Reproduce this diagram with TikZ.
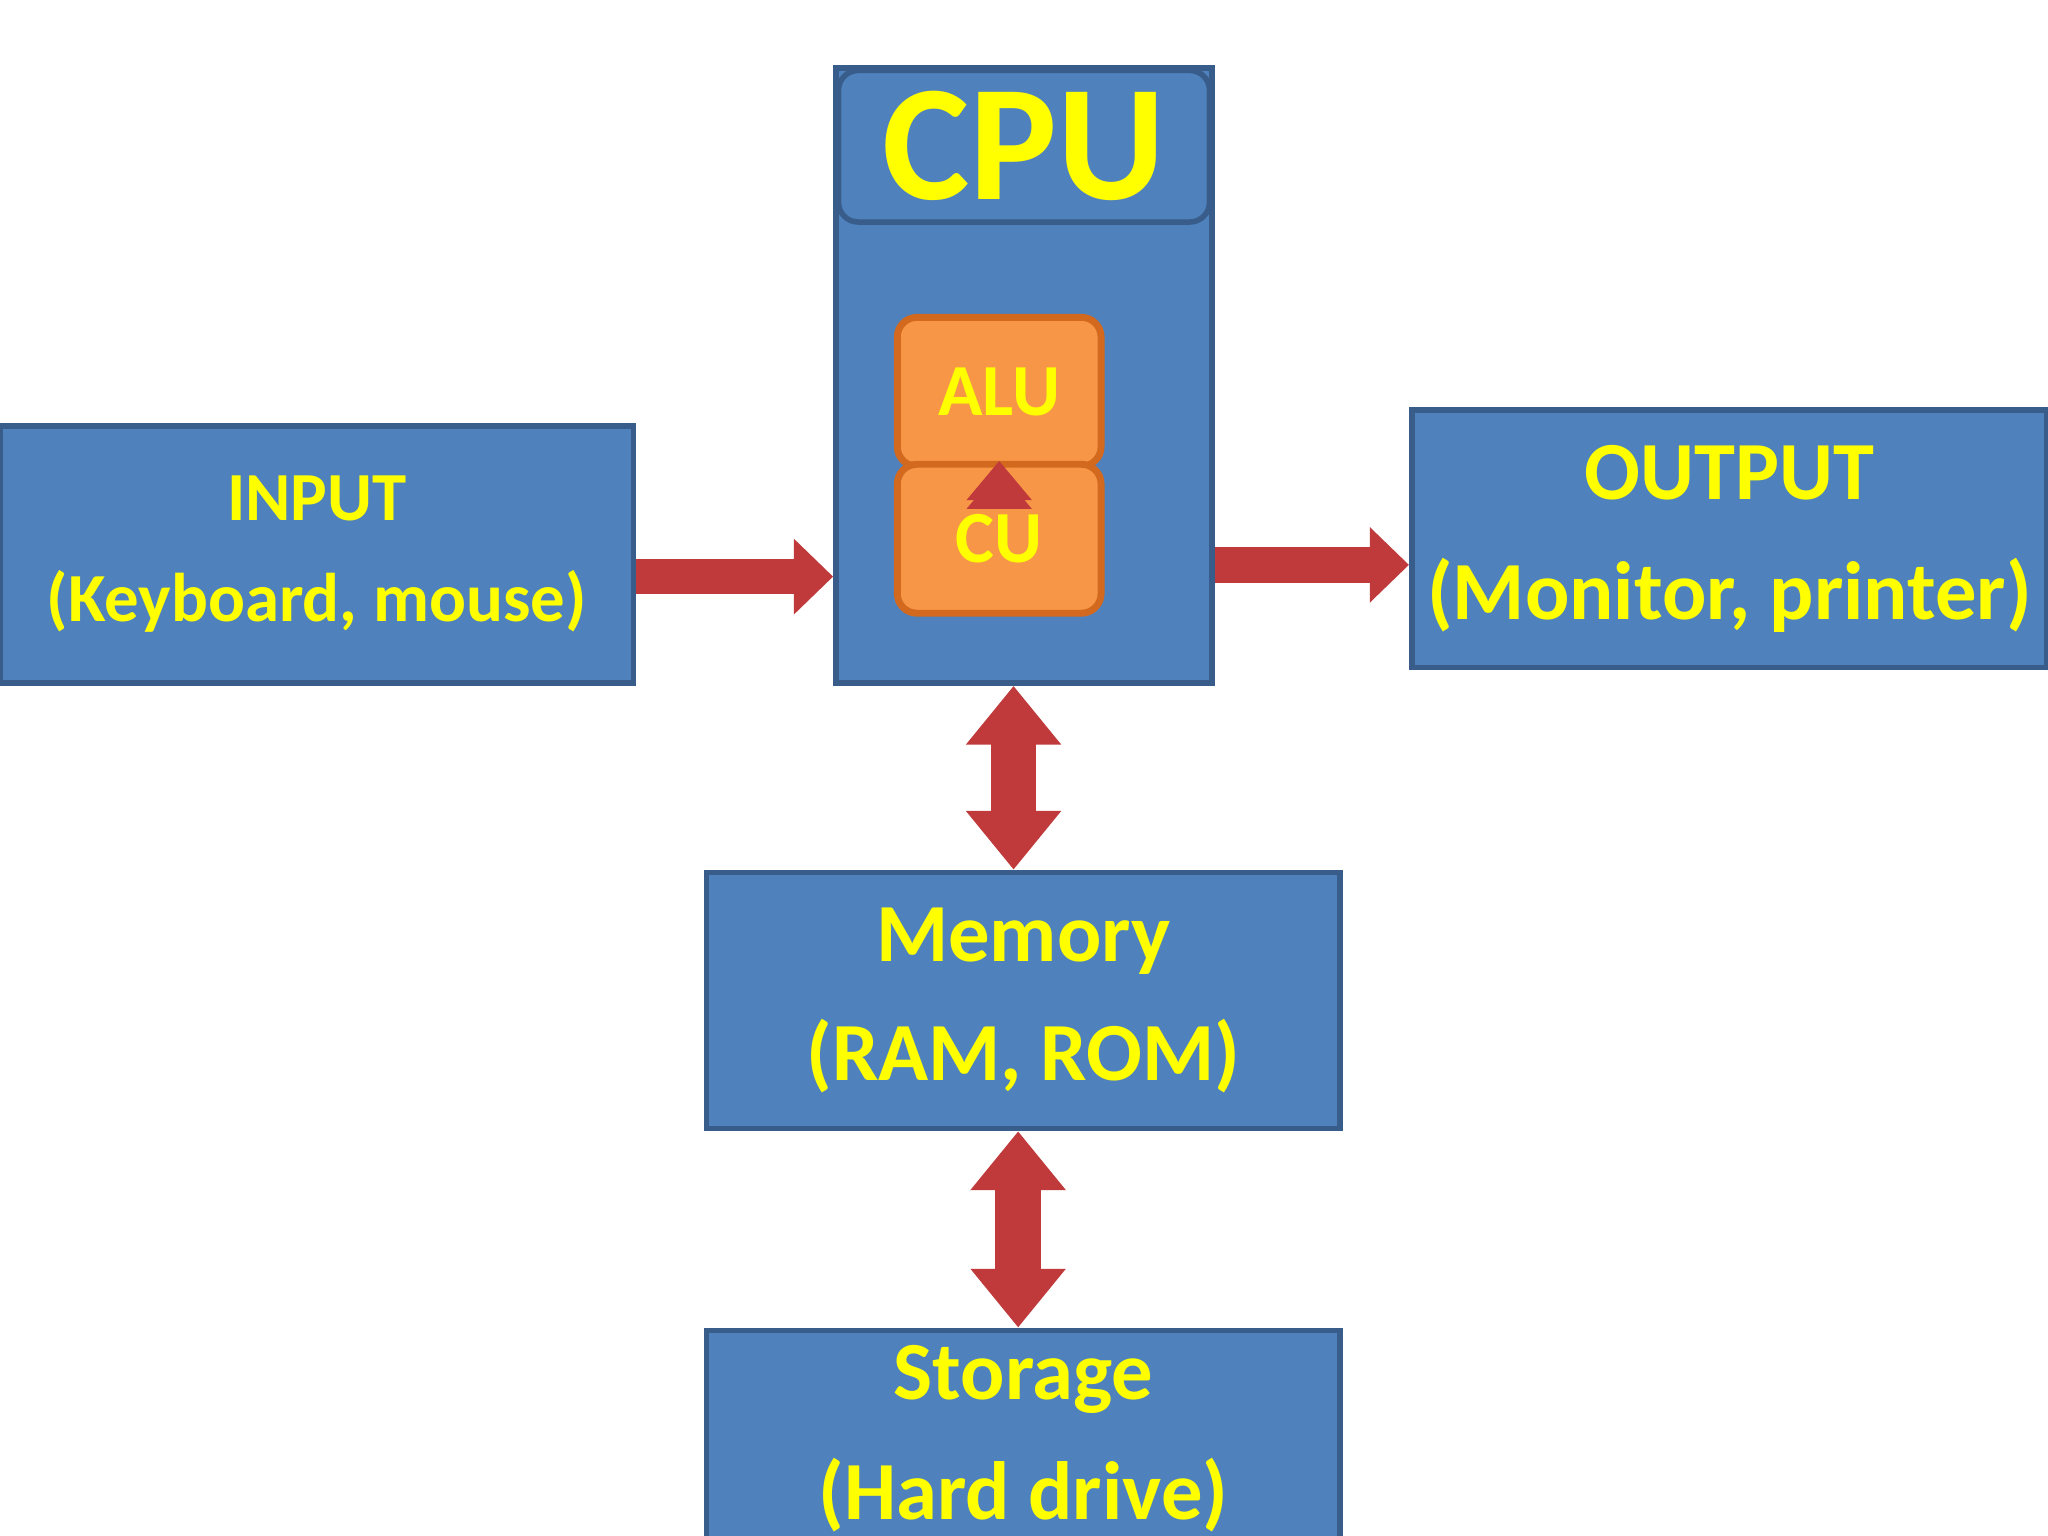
\documentclass[tikz,border=0pt]{standalone}
\usepackage{fontspec}
\setmainfont{Carlito}
\usetikzlibrary{arrows.meta}
\definecolor{boxblue}{HTML}{4F81BD}
\definecolor{boxedge}{HTML}{385D8A}
\definecolor{alured}{HTML}{C0393B}
\definecolor{unitorange}{HTML}{F79646}
\definecolor{unitedge}{HTML}{D2691E}
\definecolor{labelyellow}{HTML}{FFFF00}
\tikzset{
  block/.style={draw=boxedge, line width=1.2pt, fill=boxblue, text=labelyellow,
    font=\bfseries\fontsize{16}{24}\selectfont, align=center},
  unit/.style={draw=unitedge, line width=1.5pt, fill=unitorange, rounded corners=0.15cm,
    text=labelyellow, font=\bfseries\fontsize{16}{20}\selectfont,
    minimum width=1.56cm, minimum height=1.14cm},
  flow/.style={draw=alured, line width=0.27cm, -{Triangle[length=0.3cm,width=0.56cm]}},
  bus/.style={draw=alured, line width=0.35cm,
    {Triangle[length=0.45cm,width=0.7cm]}-{Triangle[length=0.45cm,width=0.7cm]}},
}
\begin{document}
\begin{tikzpicture}
	\useasboundingbox[fill=white] (0,0) rectangle (15.68,11.76);
	
	% blocks
	\node[block, minimum width=4.85cm, minimum height=1.97cm, font=\bfseries\fontsize{15}{22}\selectfont] (input) at (2.425,7.515) {INPUT\\(Keyboard, mouse)};
	\node[block, minimum width=2.88cm, minimum height=4.71cm] (cpu) at (7.84,8.885) {};
	\node[block, rounded corners=0.15cm, minimum width=2.84cm, minimum height=1.16cm, font=\bfseries\fontsize{36}{40}\selectfont] (head) at (7.84,10.64) {CPU};
	\node[unit] (alu) at (7.65,8.76) {ALU};
	\node[unit] (cu) at (7.65,7.635) {CU};
	\node[block, minimum width=4.84cm, minimum height=1.97cm, font=\bfseries\fontsize{18}{26}\selectfont] (output) at (13.24,7.635) {OUTPUT\\(Monitor, printer)};
	\node[block, minimum width=4.85cm, minimum height=1.96cm, font=\bfseries\fontsize{18}{26}\selectfont] (memory) at (7.835,4.10) {Memory\\(RAM, ROM)};
	\node[block, minimum width=4.85cm, minimum height=1.65cm, font=\bfseries\fontsize{18}{26}\selectfont] (storage) at (7.835,0.745) {Storage\\(Hard drive)};
	
	% connections
	\coordinate (inlvl) at ([yshift=-0.17cm]input.east);
	\coordinate (outlvl) at ([yshift=-0.2cm]output.west);
	\draw[flow] (inlvl) -- (cpu.west |- inlvl);
	\draw[flow] (cpu.east |- outlvl) -- (outlvl);
	\draw[bus, line width=0.2cm, {Triangle[length=0.3cm,width=0.48cm]}-{Triangle[length=0.3cm,width=0.48cm]}] (alu.south) -- (cu.north);
	\coordinate (cpubus) at ([xshift=-0.08cm]cpu.south);
	\draw[bus] (cpubus) -- (memory.north -| cpubus);
	\coordinate (membus) at ([xshift=-0.04cm]memory.south);
	\draw[bus] (membus) -- (storage.north -| membus);
\end{tikzpicture}
\end{document}
